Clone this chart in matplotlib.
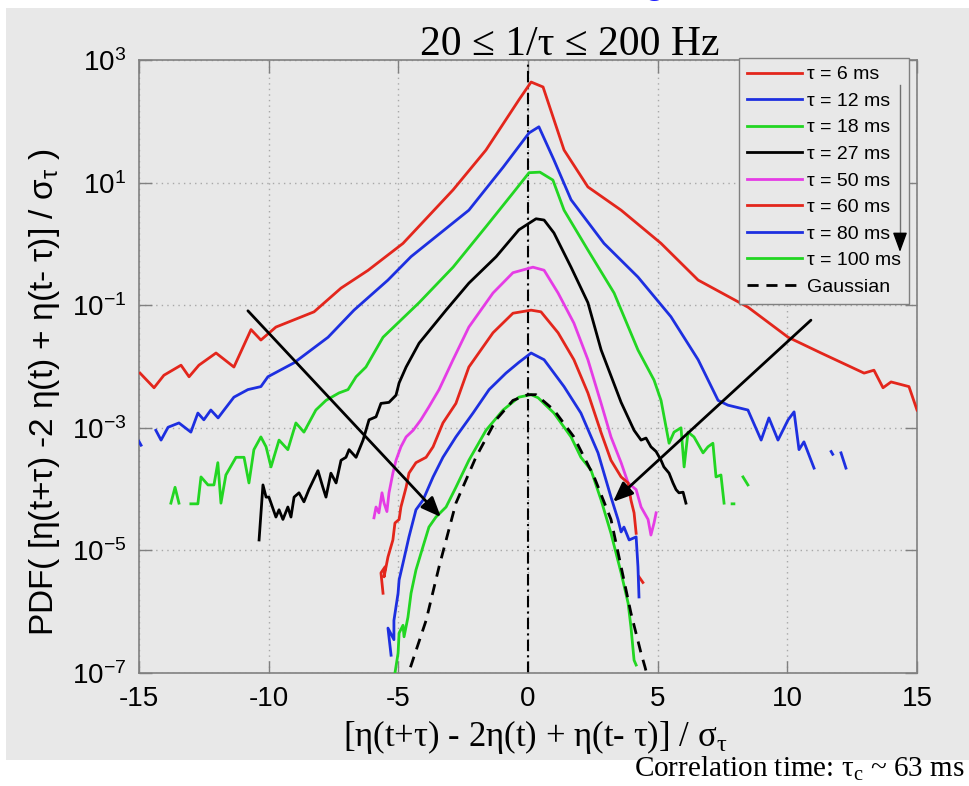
import numpy as np
import matplotlib
matplotlib.use("Agg")
import matplotlib.pyplot as plt
from matplotlib.patches import Rectangle
from matplotlib.lines import Line2D
from matplotlib.ticker import NullLocator, LogFormatterSciNotation

plt.rcParams["font.family"] = ["Liberation Sans", "DejaVu Sans"]
plt.rcParams["axes.unicode_minus"] = False
SERIF = ["Liberation Serif", "DejaVu Serif"]

nan = np.nan

# --- data ------------------------------------------------------------------
tau_labels = ["τ = 6 ms", "τ = 12 ms", "τ = 18 ms", "τ = 27 ms",
              "τ = 50 ms", "τ = 60 ms", "τ = 80 ms", "τ = 100 ms"]
tau_colors = ["#e3261c", "#1d2fe0", "#22d622", "#000000",
              "#e53ce5", "#e3261c", "#1d2fe0", "#22d622"]

x_6 = [-14.96, -14.42, -14.04, -13.38, -13.07, -12.69, -12.03, -11.34, -10.68, -10.30,
       -9.72, -8.25, -7.21, -6.17, -4.82, -2.89, -1.62, -0.35, 0.12, 0.58,
       1.39, 2.31, 3.59, 5.13, 6.56, 8.48, 10.03, 11.30, 12.96, 13.34,
       13.69, 14.0, 14.69, 15.0]
y_6 = [7.8e-3, 4.5e-3, 7.2e-3, 1.05e-2, 6.8e-3, 1.05e-2, 1.66e-2, 9.8e-3, 4.0e-2, 2.7e-2,
       4.4e-2, 7.8e-2, 0.19, 0.37, 1.02, 7.6, 34, 224, 437, 363,
       34, 8.5, 3.55, 1.02, 0.257, 9.3e-2, 3.0e-2, 1.66e-2, 7.8e-3, 8.7e-3,
       4.5e-3, 5.6e-3, 4.7e-3, 1.95e-3]

x_12 = [-15.0, -14.92, nan, -14.35, -14.15, -13.88, -13.46, -13.0, -12.73, -12.5,
        -12.23, -11.95, -11.72, -11.34, -10.80, -10.30, -10.03, -9.02, -7.71, -6.71,
        -5.40, -4.51, -2.28, -0.96, 0.04, 0.42, 1.00, 1.66, 2.93, 4.24,
        5.51, 6.56, 7.33, 7.71, 8.48, 8.99, 9.29, 9.64, 10.03, 10.26,
        10.45, 10.64, 11.03, nan, 11.69, 11.75, nan, 12.07, 12.26]
y_12 = [6.0e-4, 5.2e-4, nan, 9.1e-4, 6.3e-4, 1.02e-3, 1.2e-3, 8.5e-4, 1.74e-3, 1.35e-3,
        1.95e-3, 1.45e-3, 1.95e-3, 3.16e-3, 4.2e-3, 4.7e-3, 6.8e-3, 1.15e-2, 3.0e-2, 8.3e-2,
        0.257, 0.62, 3.55, 17.8, 64.6, 81.3, 23.4, 5.25, 1.02, 0.288,
        6.5e-2, 1.29e-2, 2.8e-3, 2.34e-3, 1.95e-3, 6.3e-4, 1.45e-3, 6.3e-4, 1.35e-3, 1.82e-3,
        4.4e-4, 5.9e-4, 2.2e-4, nan, 4.1e-4, 3.7e-4, nan, 3.9e-4, 2.2e-4]

x_18 = [-13.77, -13.61, -13.46, nan, -13.0, -12.73, -12.61, -12.34, -12.11, -11.96,
        -11.84, -11.65, -11.26, -10.95, -10.76, -10.57, -10.30, -10.10, -9.91, -9.60,
        -9.26, -8.95, -8.64, -8.18, -7.79, -7.29, -6.94, -6.63, -6.25, -5.59,
        -4.20, -2.89, -1.62, -0.58, 0.04, 0.46, 0.96, 1.39, 2.31, 3.32,
        4.24, 4.86, 5.13, 5.44, 5.63, 5.90, 6.02, 6.17, 6.40, 6.75,
        6.94, 7.13, 7.25, 7.44, 7.56, nan, 7.87, 7.94, nan, 8.29, 8.48]
y_18 = [5.9e-5, 1.07e-4, 5.9e-5, nan, 5.75e-5, 5.75e-5, 1.58e-4, 1.17e-4, 1.17e-4, 2.7e-4,
        5.9e-5, 1.7e-4, 3.3e-4, 3.3e-4, 1.26e-4, 4.4e-4, 7.1e-4, 4.9e-4, 2.3e-4, 6.3e-4,
        4.4e-4, 1.2e-3, 8.5e-4, 1.95e-3, 2.8e-3, 3.7e-3, 4.2e-3, 6.8e-3, 9.8e-3, 3.0e-2,
        0.11, 0.417, 1.91, 6.76, 14.5, 14.8, 11.0, 3.55, 0.794, 0.158,
        1.86e-2, 6.0e-3, 2.8e-3, 5.6e-4, 8.5e-4, 1.0e-3, 2.3e-4, 8.5e-4, 7.1e-4, 3.9e-4,
        4.9e-4, 5.6e-4, 1.58e-4, 1.7e-4, 5.9e-5, nan, 5.75e-5, 5.75e-5, nan, 1.58e-4, 1.17e-4]

x_27 = [-10.37, -10.22, -10.10, -9.99, -9.72, -9.60, -9.45, -9.26, -9.14, -9.02,
        -8.83, -8.64, -8.45, -8.10, -7.91, -7.79, -7.60, -7.40, -7.21, -7.02,
        -6.90, -6.63, -6.36, -6.13, -5.86, -5.67, -5.36, -5.09, -4.97, -4.70,
        -4.20, -3.16, -2.28, -1.23, -0.35, 0.31, 0.62, 1.00, 1.66, 2.31,
        2.82, 3.59, 4.09, 4.36, 4.55, 4.74, 4.94, 5.13, 5.24, 5.44,
        5.59, 5.71, 5.82, 5.98, 6.09]
y_27 = [1.48e-5, 1.17e-4, 7.4e-5, 7.4e-5, 3.5e-5, 4.6e-5, 3.2e-5, 5.1e-5, 3.5e-5, 7.4e-5,
        8.7e-5, 6.2e-5, 9.8e-5, 2.0e-4, 1.07e-4, 7.4e-5, 1.82e-4, 1.26e-4, 2.95e-4, 3.3e-4,
        4.4e-4, 3.3e-4, 6.3e-4, 1.35e-3, 1.51e-3, 2.5e-3, 2.6e-3, 3.4e-3, 5.4e-3, 9.8e-3,
        2.4e-2, 8.3e-2, 0.229, 0.617, 1.70, 2.57, 2.45, 1.51, 0.417, 0.11,
        1.86e-2, 2.6e-3, 9.1e-4, 6.3e-4, 6.8e-4, 4.9e-4, 4.1e-4, 2.95e-4, 2.3e-4, 1.82e-4,
        1.26e-4, 9.8e-5, 8.7e-5, 8.9e-5, 5.9e-5]

x_50 = [-5.94, -5.86, -5.75, -5.63, -5.55, -5.44, -5.36, -5.21, -5.09, -4.90,
        -4.70, -4.43, -4.13, -3.82, -3.43, -2.89, -2.28, -1.35, -0.58, 0.19,
        0.62, 1.16, 1.77, 2.31, 2.82, 3.20, 3.59, 3.86, 4.17, 4.36,
        4.63, 4.74, 4.86, 4.94]
y_50 = [3.4e-5, 5.1e-5, 4.1e-5, 8.7e-5, 5.9e-5, 4.3e-5, 8.7e-5, 1.82e-4, 2.95e-4, 4.9e-4,
        7.1e-4, 9.1e-4, 1.35e-3, 2.2e-3, 4.2e-3, 1.29e-2, 4.4e-2, 0.158, 0.339, 0.417,
        0.372, 0.158, 5.1e-2, 1.29e-2, 2.5e-3, 7.1e-4, 2.7e-4, 1.26e-4, 9.8e-5, 5.1e-5,
        3.2e-5, 1.78e-5, 2.8e-5, 4.1e-5]

x_60 = [-5.59, -5.67, -5.51, -5.55, -5.40, -5.21, -5.13, -4.97, -4.90, -4.70,
        -4.59, -4.32, -3.93, -3.66, -3.28, -2.78, -2.28, -1.35, -0.58, 0.12,
        0.50, 1.16, 1.77, 2.31, 2.82, 3.20, 3.59, 3.86, 3.97, 4.09,
        4.17, nan, 4.28, 4.43]
y_60 = [2.0e-6, 4.3e-6, 5.4e-6, 3.7e-6, 7.8e-6, 1.48e-5, 2.8e-5, 3.2e-5, 5.1e-5, 1.07e-4,
        1.82e-4, 2.7e-4, 3.3e-4, 4.9e-4, 1.2e-3, 2.5e-3, 9.8e-3, 3.55e-2, 7.4e-2, 8.3e-2,
        7.8e-2, 3.55e-2, 1.29e-2, 3.7e-3, 8.3e-4, 2.95e-4, 1.58e-4, 1.26e-4, 6.6e-5, 4.1e-5,
        1.9e-5, nan, 3.7e-6, 3.0e-6]

x_80 = [-5.28, -5.40, -5.17, -5.17, -5.01, -4.97, -4.82, -4.59, -4.32, -4.05,
        -3.66, -3.28, -2.78, -2.12, -1.50, -0.85, -0.35, 0.12, 0.62, 1.39,
        2.04, 2.70, 3.20, 3.47, 3.59, 3.70, 3.90, 4.17, 4.24, 4.28]
y_80 = [1.95e-7, 5.4e-7, 3.5e-7, 7.2e-7, 2.0e-6, 3.3e-6, 6.2e-6, 1.66e-5, 4.6e-5, 6.6e-5,
        1.58e-4, 3.3e-4, 7.1e-4, 1.74e-3, 4.2e-3, 7.8e-3, 1.17e-2, 1.66e-2, 1.29e-2, 4.7e-3,
        1.74e-3, 3.9e-4, 7.4e-5, 3.2e-5, 2.0e-5, 2.4e-5, 1.48e-5, 1.66e-5, 5.4e-6, 1.74e-6]

x_100 = [-5.17, -5.01, -4.97, -4.82, -4.78, -4.63, -4.51, -4.32, -4.05, -3.82,
         -3.55, -3.16, -2.78, -2.28, -1.62, -0.96, -0.35, 0.12, 0.39, 1.00,
         1.66, 2.04, 2.43, 2.82, 3.20, 3.59, 3.86, 3.97, 4.09, 4.17]
y_100 = [7.8e-8, 2.1e-7, 4.5e-7, 6.0e-7, 3.9e-7, 8.1e-7, 2.0e-6, 4.8e-6, 1.15e-5, 2.4e-5,
         3.5e-5, 5.1e-5, 1.07e-4, 2.95e-4, 9.1e-4, 1.95e-3, 3.16e-3, 3.47e-3, 3.09e-3, 1.74e-3,
         7.1e-4, 3.3e-4, 2.04e-4, 6.6e-5, 1.9e-5, 4.3e-6, 1.38e-6, 5.6e-7, 1.62e-7, 1.35e-7]

x_gauss = [-4.75, -4.59, -3.93, -3.43, -2.78, -2.01, -1.23, -0.58, 0.0, 0.31,
           1.00, 1.77, 2.55, 3.20, 3.59, 3.97, 4.36, 4.51, 4.59]
y_gauss = [6.3e-8, 1.05e-7, 7.2e-7, 5.4e-6, 5.9e-5, 3.3e-4, 1.35e-3, 2.8e-3, 3.47e-3, 3.47e-3,
           1.95e-3, 7.1e-4, 1.58e-4, 3.2e-5, 5.4e-6, 9.5e-7, 2.1e-7, 1.26e-7, 9.3e-8]

curves_x = [x_6, x_12, x_18, x_27, x_50, x_60, x_80, x_100]
curves_y = [y_6, y_12, y_18, y_27, y_50, y_60, y_80, y_100]

x_ticks = [-15, -10, -5, 0, 5, 10, 15]
y_ticks = [1e3, 1e1, 1e-1, 1e-3, 1e-5, 1e-7]

# arrows (tail -> head) in data coordinates
arrow_left = ((-10.80, 8.1e-2), (-3.36, 3.5e-5))
arrow_right = ((10.91, 5.7e-2), (3.28, 6.2e-5))

# --- figure -------------------------------------------------------------------
W, H = 969, 786
BG = "#e8e8e8"
EDGE = "#808080"

fig = plt.figure(figsize=(W / 100, H / 100), dpi=100, facecolor="white")
fig.patches.append(Rectangle((6 / W, 1 - 760 / H), 1 - 6 / W, (760 - 8) / H,
                             transform=fig.transFigure, facecolor=BG, edgecolor="none", zorder=-10))

ax = fig.add_axes([139 / W, 1 - 673 / H, (917 - 139) / W, (673 - 60) / H])
ax.set_facecolor(BG)
ax.set_yscale("log")
ax.set_xlim(-15, 15)
ax.set_ylim(1e-7, 1e3)
ax.set_xticks(x_ticks)
ax.set_yticks(y_ticks)
ax.yaxis.set_minor_locator(NullLocator())
ax.yaxis.set_major_formatter(LogFormatterSciNotation())
ax.tick_params(which="major", direction="in", length=9, width=1, color=EDGE,
               top=True, right=True, labelsize=20, pad=9)
for sp in ax.spines.values():
    sp.set_color(EDGE)
    sp.set_linewidth(1.2)
ax.grid(True, ls=(0, (1, 3)), color="#a8a8a8", lw=1)
ax.set_axisbelow(True)

ax.axvline(0, color="k", lw=1.5, dashes=(5.5, 2, 1, 2), zorder=1)

handles = []
for xs, ys, c in zip(curves_x, curves_y, tau_colors):
    ln, = ax.plot(xs, ys, color=c, lw=2, zorder=3)
    handles.append(ln)
g, = ax.plot(x_gauss, y_gauss, color="k", lw=2, dashes=(4, 2.8), zorder=4)
handles.append(g)

arrow_style = dict(arrowstyle="-|>,head_length=0.6,head_width=0.25", color="k", lw=2,
                   mutation_scale=20, shrinkA=0, shrinkB=0)
for (tail, head) in (arrow_left, arrow_right):
    ax.annotate("", xy=head, xytext=tail, arrowprops=arrow_style, zorder=6)

leg = ax.legend(handles, tau_labels + ["Gaussian"], loc="upper right",
                bbox_to_anchor=(909 / W, 1 - 58 / H), bbox_transform=fig.transFigure,
                borderaxespad=0, fontsize=14, frameon=True, fancybox=False,
                edgecolor=EDGE, facecolor=BG, framealpha=1, handlelength=2.85,
                handletextpad=0.26, labelspacing=0.46, borderpad=0.4)
leg.get_frame().set_linewidth(1.0)
leg.set_zorder(5)

# arrow inside the legend
ax.add_line(Line2D([900 / W, 900 / W], [1 - 85 / H, 1 - 240 / H], transform=fig.transFigure,
                   color="#707070", lw=1, zorder=7))
ax.annotate("", xy=(900 / W, 1 - 252 / H), xytext=(900 / W, 1 - 236 / H),
            xycoords="figure fraction", textcoords="figure fraction",
            arrowprops=dict(arrowstyle="-|>,head_length=0.6,head_width=0.22", color="k",
                            lw=1, mutation_scale=20, shrinkA=0, shrinkB=0), zorder=7)

# texts
fig.text(570 / W, 1 - 55 / H, "20 ≤ 1/τ ≤ 200 Hz", family=SERIF, fontsize=30,
         ha="center", va="baseline")
fig.text(535 / W, 1 - 737 / H, "[η(t+τ) - 2η(t) + η(t- τ)] / $\\mathregular{σ_{τ}}$",
         family=SERIF, fontsize=25, ha="center", va="center")
fig.text(45 / W, 1 - 392 / H,
         "PDF( [η(t+τ) -2 η(t) + η(t- τ)] / $\\mathregular{σ_{τ}}$ )",
         fontsize=24, rotation=90, ha="center", va="center")
fig.text(965 / W, 1 - 777 / H, "Correlation time: $\\mathregular{τ_{c}}$ ~ 63 ms",
         family=SERIF, fontsize=21, ha="right", va="baseline")
fig.text(643 / W, 1 + 7 / H, "g", color="#1a1aff", fontsize=28, ha="left", va="baseline")

fig.savefig("out.png", dpi=100, facecolor="white")
